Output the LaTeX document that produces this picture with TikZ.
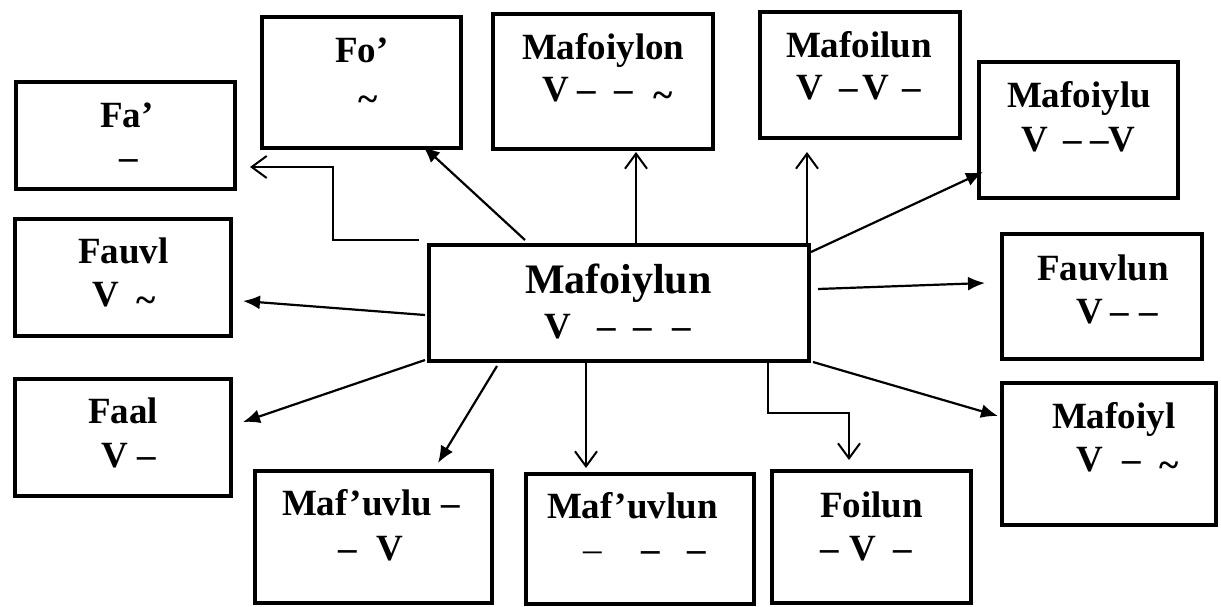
\documentclass[tikz,border=0pt]{standalone}
\usepackage{fontspec}
\setmainfont{Liberation Serif}
\usetikzlibrary{arrows.meta,calc}
\newcommand{\tld}{\raisebox{-6pt}{\textasciitilde}}
\begin{document}
\begin{tikzpicture}[x=1pt,y=-1pt,
 box/.style={draw,line width=4pt,inner sep=0pt,outer sep=0pt},
 txt/.style={anchor=base west,inner sep=0pt,outer sep=0pt,font=\fontsize{37}{44}\selectfont\bfseries},
 bigtxt/.style={txt,font=\fontsize{42}{50}\selectfont\bfseries},
 arF/.style={line width=2.2pt,-{Latex[length=17pt,width=14pt]}},
 arO/.style={line width=2pt,-{Straight Barb[length=15pt,width=22pt,line width=2pt]}},
]
\useasboundingbox (0,0) rectangle (1221,607);
\fill[white] (0,0) rectangle (1221,607);

% boxes
\node[box,minimum width=219pt,minimum height=107pt] (fa)   at (125.5,135.5) {};
\node[box,minimum width=199pt,minimum height=131pt] (fo)   at (361.5,82.5) {};
\node[box,minimum width=220pt,minimum height=135pt] (myl)  at (603,81.5) {};
\node[box,minimum width=200pt,minimum height=126pt] (mfl)  at (860,75) {};
\node[box,minimum width=199pt,minimum height=136pt] (myu)  at (1078.5,130) {};
\node[box,minimum width=200pt,minimum height=125pt] (fvn)  at (1102,296.5) {};
\node[box,minimum width=214pt,minimum height=142pt] (mfy)  at (1109,454) {};
\node[box,minimum width=199pt,minimum height=132pt] (fol)  at (871.5,537) {};
\node[box,minimum width=228pt,minimum height=130pt] (mfn)  at (640,539) {};
\node[box,minimum width=237pt,minimum height=132pt] (mfu)  at (373.5,537) {};
\node[box,minimum width=216pt,minimum height=117pt] (faal) at (123,437.5) {};
\node[box,minimum width=216pt,minimum height=117pt] (fvl)  at (123,277.5) {};
\node[box,line width=4.5pt,minimum width=380pt,minimum height=116pt] (c) at (619,303) {};

% texts
\node[txt] (tfa1) at (100,128) {Fa’};
\node[txt] (tfa2) at (119,170) {–};
\node[txt] (tfo1) at (335,63) {Fo’};
\node[txt] (tfo2) at (358,106) {\tld};
\node[txt] (tmyl1) at (522,60) {Mafoiylon};
\node[txt] (tmyl2) at (542,102) {V\hspace{9pt}–\hspace{18.5pt}–\hspace{20.5pt}\tld};
\node[txt] (tmfl1) at (786,58) {Mafoilun};
\node[txt] (tmfl2) at (796,100) {V\hspace{17pt}–\hspace{4pt}V\hspace{14pt}–};
\node[txt] (tmyu1) at (1007,108) {Mafoiylu};
\node[txt] (tmyu2) at (1021.5,152) {V\hspace{15pt}–\hspace{8.5pt}–V};
\node[txt] (tfvn1) at (1037,280) {Fauvlun};
\node[txt] (tfvn2) at (1076.5,323) {V\hspace{7pt}–\hspace{11pt}–};
\node[txt] (tmfy1) at (1052,428) {Mafoiyl};
\node[txt] (tmfy2) at (1076.5,471) {V\hspace{19pt}–\hspace{18.5pt}\tld};
\node[txt] (tfol1) at (820,517) {Foilun};
\node[txt] (tfol2) at (820,560) {–\hspace{11pt}V\hspace{17pt}–};
\node[txt] (tmfn1) at (547,518) {Maf’uvlun};
\node[txt] (tmfn2) at (583,561) {{\mdseries –}\hspace{39.5pt}–\hspace{28.5pt}–};
\node[txt] (tmfu1) at (282,515) {Maf’uvlu –};
\node[txt] (tmfu2) at (338,560) {–\hspace{20pt}V};
\node[txt] (tfaal1) at (88,423) {Faal};
\node[txt] (tfaal2) at (101.5,467) {V\hspace{9pt}–};
\node[txt] (tfvl1) at (78,263) {Fauvl};
\node[txt] (tfvl2) at (92.5,306) {V\hspace{17pt}\tld};
\node[bigtxt] (tc1) at (525,293) {Mafoiylun};
\node[txt] (tc2) at (544.5,338) {V\hspace{26pt}–\hspace{17.5pt}–\hspace{20.5pt}–};

% connectors
\coordinate (fa0) at (419,240);
\draw[arO] (fa0) -- (333,240) |- ($(fa.east)+(15,31.5)$);
\draw[arF] ($(c.north west)+(96,-5)$) -- ($(fo.south)+(61.5,-2)$);
\draw[arO] ($(c.north)+(17,0)$) -- ($(myl.south)+(33,3)$);
\draw[arO] ($(c.north east)+(-2,2)$) -- ($(mfl.south)+(-53,14)$);
\draw[arF] ($(c.north east)+(2,7)$) -- ($(myu.west)+(4,42)$);
\draw[arF] ($(c.east)+(9,-14)$) -- ($(fvn.west)+(-17,-13.5)$);
\draw[arF] ($(c.south east)+(4,1)$) -- ($(mfy.west)+(-4,-38)$);
\draw[arO] ($(c.south east)+(-41,0)$) -- ++(0,52) -| ($(fol.north)+(-22.5,-11)$);
\draw[arO] ($(c.south)+(-33,0)$) -- ($(mfn.north)+(-54,-6)$);
\draw[arF] ($(c.south west)+(68,5)$) -- ($(mfu.north)+(64.5,-8)$);
\draw[arF] ($(c.south west)+(-4,-1)$) -- ($(faal.east)+(12,-15.5)$);
\draw[arF] ($(c.west)+(-4,12)$) -- ($(fvl.east)+(12,23.5)$);
\end{tikzpicture}
\end{document}
